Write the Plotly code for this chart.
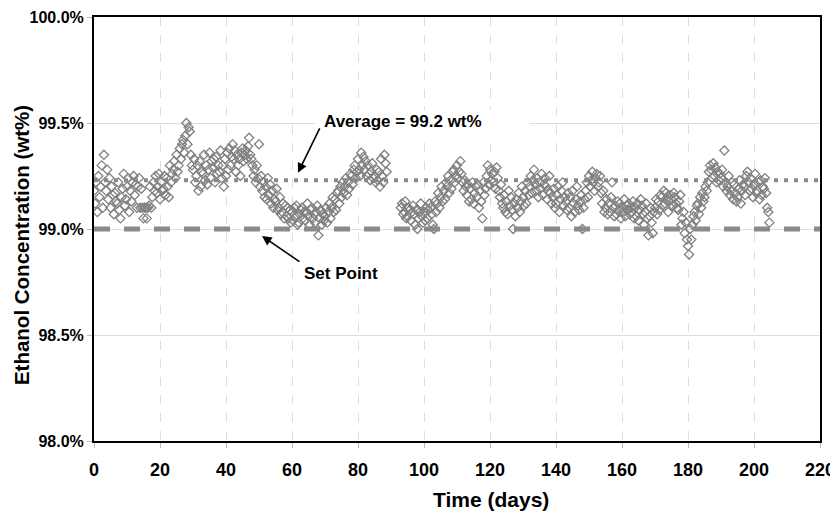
import plotly.graph_objects as go

# ---- data ----
days = list(range(0, 89)) + list(range(93, 205))
shift_offsets = [0.0, 0.33, 0.67]   # three readings per day (fraction of a day)

reading_a = [
    99.18, 99.08, 99.20, 99.35, 99.28, 99.10, 99.07, 99.12, 99.05, 99.26,
    99.20, 99.18, 99.25, 99.10, 99.10, 99.05, 99.05, 99.20, 99.22, 99.17,
    99.14, 99.19, 99.24, 99.30, 99.28, 99.35, 99.38, 99.42, 99.50, 99.46,
    99.28, 99.25, 99.32, 99.26, 99.30, 99.36, 99.29, 99.34, 99.27, 99.30,
    99.25, 99.38, 99.40, 99.27, 99.33, 99.38, 99.37, 99.43, 99.30, 99.22,
    99.40, 99.18, 99.20, 99.16, 99.18, 99.13, 99.10, 99.08, 99.11, 99.05,
    99.08, 99.06, 99.03, 99.10, 99.04, 99.06, 99.10, 99.03, 98.97, 99.02,
    99.06, 99.08, 99.10, 99.14, 99.18, 99.15, 99.20, 99.22, 99.25, 99.30,
    99.33, 99.36, 99.28, 99.30, 99.27, 99.25, 99.23, 99.33, 99.35,
    99.10, 99.08, 99.06, 99.04, 99.07, 99.00, 99.12, 99.08, 99.05, 99.10,
    99.00, 99.12, 99.15, 99.18, 99.20, 99.23, 99.28, 99.30, 99.32, 99.18,
    99.16, 99.19, 99.12, 99.15, 99.18, 99.22, 99.25, 99.28, 99.22, 99.29,
    99.15, 99.10, 99.13, 99.11, 99.00, 99.14, 99.08, 99.15, 99.12, 99.20,
    99.23, 99.18, 99.22, 99.16, 99.20, 99.25, 99.15, 99.12, 99.08, 99.22,
    99.13, 99.10, 99.18, 99.14, 99.09, 99.00, 99.18, 99.25, 99.27, 99.24,
    99.22, 99.12, 99.10, 99.12, 99.22, 99.11, 99.09, 99.10, 99.06, 99.12,
    99.08, 99.10, 99.04, 99.11, 99.08, 98.97, 99.03, 99.10, 99.13, 99.15,
    99.12, 99.08, 99.14, 99.15, 99.09, 99.02, 98.98, 98.92, 98.95, 99.08,
    99.12, 99.10, 99.15, 99.22, 99.28, 99.25, 99.27, 99.24, 99.37, 99.20,
    99.18, 99.21, 99.15, 99.12, 99.20, 99.27, 99.24, 99.21, 99.18, 99.23,
    99.19, 99.10,
]
reading_b = [
    99.12, 99.25, 99.30, 99.22, 99.14, 99.20, 99.17, 99.22, 99.15, 99.11,
    99.24, 99.13, 99.16, 99.20, 99.19, 99.10, 99.10, 99.10, 99.18, 99.20,
    99.22, 99.25, 99.20, 99.22, 99.32, 99.27, 99.33, 99.36, 99.40, 99.35,
    99.33, 99.30, 99.20, 99.35, 99.21, 99.24, 99.33, 99.26, 99.37, 99.20,
    99.36, 99.30, 99.33, 99.35, 99.25, 99.32, 99.33, 99.35, 99.25, 99.30,
    99.20, 99.22, 99.14, 99.21, 99.10, 99.19, 99.15, 99.12, 99.06, 99.09,
    99.04, 99.11, 99.07, 99.05, 99.08, 99.02, 99.05, 99.08, 99.05, 99.07,
    99.10, 99.12, 99.15, 99.09, 99.12, 99.22, 99.24, 99.19, 99.21, 99.24,
    99.28, 99.30, 99.32, 99.26, 99.31, 99.22, 99.27, 99.25, 99.31,
    99.12, 99.13, 99.10, 99.08, 99.02, 99.05, 99.06, 99.04, 99.09, 99.07,
    99.13, 99.17, 99.20, 99.14, 99.25, 99.19, 99.22, 99.24, 99.26, 99.23,
    99.21, 99.14, 99.17, 99.21, 99.13, 99.16, 99.30, 99.23, 99.27, 99.24,
    99.21, 99.16, 99.07, 99.15, 99.12, 99.10, 99.13, 99.11, 99.22, 99.25,
    99.28, 99.24, 99.19, 99.21, 99.14, 99.17, 99.19, 99.16, 99.14, 99.11,
    99.09, 99.15, 99.12, 99.20, 99.13, 99.10, 99.22, 99.20, 99.22, 99.26,
    99.25, 99.18, 99.14, 99.08, 99.10, 99.07, 99.12, 99.08, 99.11, 99.07,
    99.13, 99.06, 99.09, 99.07, 99.12, 99.06, 98.98, 99.14, 99.09, 99.11,
    99.17, 99.13, 99.11, 99.12, 99.13, 99.05, 99.03, 98.88, 99.02, 99.04,
    99.07, 99.17, 99.20, 99.27, 99.24, 99.29, 99.23, 99.28, 99.22, 99.25,
    99.22, 99.17, 99.19, 99.18, 99.16, 99.22, 99.19, 99.26, 99.22, 99.16,
    99.24, 99.08,
]
reading_c = [
    99.22, 99.15, 99.10, 99.18, 99.24, 99.16, 99.13, 99.09, 99.19, 99.14,
    99.08, 99.22, 99.21, 99.24, 99.10, 99.10, 99.11, 99.15, 99.25, 99.26,
    99.18, 99.16, 99.15, 99.26, 99.24, 99.30, 99.40, 99.44, 99.48, 99.30,
    99.22, 99.18, 99.27, 99.23, 99.28, 99.32, 99.22, 99.30, 99.24, 99.33,
    99.28, 99.34, 99.37, 99.30, 99.36, 99.35, 99.39, 99.33, 99.28, 99.24,
    99.25, 99.15, 99.24, 99.12, 99.14, 99.09, 99.07, 99.05, 99.10, 99.03,
    99.10, 99.02, 99.09, 99.08, 99.12, 99.09, 99.07, 99.11, 99.09, 99.04,
    99.03, 99.05, 99.08, 99.17, 99.20, 99.17, 99.16, 99.26, 99.28, 99.27,
    99.25, 99.34, 99.25, 99.23, 99.24, 99.28, 99.20, 99.22, 99.27,
    99.07, 99.05, 99.09, 99.11, 99.09, 99.08, 99.03, 99.10, 99.12, 99.02,
    99.08, 99.10, 99.13, 99.22, 99.17, 99.27, 99.25, 99.27, 99.22, 99.20,
    99.13, 99.22, 99.20, 99.10, 99.05, 99.19, 99.21, 99.26, 99.19, 99.18,
    99.12, 99.08, 99.18, 99.09, 99.06, 99.17, 99.20, 99.18, 99.16, 99.17,
    99.21, 99.15, 99.26, 99.24, 99.18, 99.12, 99.10, 99.20, 99.18, 99.15,
    99.17, 99.06, 99.08, 99.11, 99.16, 99.14, 99.15, 99.23, 99.18, 99.20,
    99.17, 99.08, 99.07, 99.15, 99.06, 99.13, 99.05, 99.14, 99.09, 99.10,
    99.05, 99.12, 99.14, 99.02, 99.05, 99.10, 99.08, 99.07, 99.16, 99.18,
    99.14, 99.16, 99.17, 99.10, 99.16, 99.08, 98.95, 99.00, 99.06, 99.11,
    99.15, 99.13, 99.18, 99.30, 99.31, 99.22, 99.26, 99.20, 99.18, 99.16,
    99.14, 99.13, 99.23, 99.21, 99.25, 99.18, 99.15, 99.17, 99.14, 99.20,
    99.17, 99.03,
]

average_value = 99.23
set_point = 99.0
x_range = [0, 220]
y_range = [98.0, 100.0]

# ---- assemble points ----
time_pts, conc_pts = [], []
for readings, off in zip([reading_a, reading_b, reading_c], shift_offsets):
    n = min(len(days), len(readings))
    for d, v in zip(days[:n], readings[:n]):
        time_pts.append(d + off)
        conc_pts.append(v)

FONT = "Arial, Liberation Sans, sans-serif"
GRAY = "#8a8a8a"

fig = go.Figure()
fig.add_trace(go.Scatter(
    x=time_pts, y=conc_pts, mode="markers",
    marker=dict(symbol="diamond-open", size=7, color="#808080",
                line=dict(width=1.3, color="#808080")),
    showlegend=False, hoverinfo="x+y"))
fig.add_trace(go.Scatter(
    x=x_range, y=[average_value, average_value], mode="lines",
    line=dict(color=GRAY, width=4, dash="4px,6px"), showlegend=False))
fig.add_trace(go.Scatter(
    x=x_range, y=[set_point, set_point], mode="lines",
    line=dict(color=GRAY, width=5, dash="16px,14px"), showlegend=False))

# white box behind the "Average" label (covers the gridlines)
fig.add_shape(type="rect", xref="x", yref="y", x0=67, x1=132, y0=99.44, y1=99.56,
              fillcolor="white", line=dict(width=0), layer="between")

# arrow pointing at the average line
fig.add_annotation(x=61.8, y=99.265, xref="x", yref="y", text="",
                   font=dict(size=1), borderpad=0,
                   showarrow=True, ax=22, ay=-45, arrowhead=2, arrowsize=1.2,
                   arrowwidth=1.6, arrowcolor="black")
fig.add_annotation(x=93.6, y=99.505, xref="x", yref="y",
                   text="<b>Average = 99.2 wt%</b>", showarrow=False,
                   font=dict(family=FONT, size=17, color="black"))
# arrow pointing at the set point line
fig.add_annotation(x=50.9, y=98.967, xref="x", yref="y", text="",
                   font=dict(size=1), borderpad=0,
                   showarrow=True, ax=38, ay=26, arrowhead=2, arrowsize=1.2,
                   arrowwidth=1.6, arrowcolor="black")
fig.add_annotation(x=74.8, y=98.79, xref="x", yref="y",
                   text="<b>Set Point</b>", showarrow=False,
                   font=dict(family=FONT, size=17, color="black"),
                   bgcolor="white")

# axis titles (placed as in the reference)
fig.add_annotation(x=0.547, y=-0.137, xref="paper", yref="paper",
                   text="<b>Time (days)</b>", showarrow=False,
                   xanchor="center", yanchor="middle",
                   font=dict(family=FONT, size=21, color="black"))
fig.add_annotation(x=-0.1006, y=0.462, xref="paper", yref="paper",
                   text="<b>Ethanol Concentration (wt%)</b>", showarrow=False,
                   textangle=-90, xanchor="center", yanchor="middle",
                   font=dict(family=FONT, size=20.5, color="black"))

fig.update_xaxes(range=x_range, dtick=20, tick0=0, automargin=False,
                 ticklabeloverflow="allow",
                 showgrid=True, gridcolor="#dddddd", griddash="dash", gridwidth=1,
                 showline=True, linecolor="black", linewidth=2, mirror=True,
                 ticks="outside", ticklen=5, tickcolor="#bbbbbb",
                 ticklabelstandoff=6,
                 tickfont=dict(family=FONT, size=18, color="black", weight="bold"),
                 zeroline=False)
fig.update_yaxes(range=y_range, dtick=0.5, tick0=98.0, tickformat=".1f", ticksuffix="%",
                 automargin=False, ticklabeloverflow="allow",
                 showgrid=True, gridcolor="#dddddd", gridwidth=1,
                 showline=True, linecolor="black", linewidth=2, mirror=True,
                 ticks="outside", ticklen=5, tickcolor="#bbbbbb",
                 tickfont=dict(family=FONT, size=16, color="black", weight="bold"),
                 zeroline=False)

# the page body adds an 8px offset, so the figure is sized to fit the window
fig.update_layout(width=830, height=505,
                  margin=dict(l=86, r=18, t=9, b=72),
                  plot_bgcolor="white", paper_bgcolor="white",
                  font=dict(family=FONT))

fig.write_html("out.html")
